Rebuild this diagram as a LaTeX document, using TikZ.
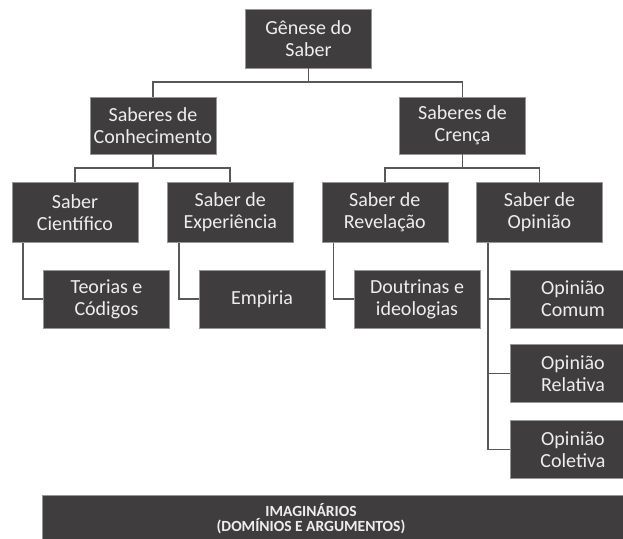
\documentclass[tikz,border=0pt]{standalone}
\usepackage{fontspec}
\setmainfont{Carlito}
\usetikzlibrary{positioning}
\definecolor{boxgray}{RGB}{64,61,62}
\definecolor{edgegray}{RGB}{150,150,150}
\definecolor{linegray}{RGB}{88,88,88}
\definecolor{textwhite}{RGB}{238,238,238}

\begin{document}
\begin{tikzpicture}[x=1pt, y=-1pt,
		box/.style={rectangle, draw=edgegray, line width=0.6pt, fill=boxgray, text=textwhite, align=center, minimum width=126pt, minimum height=58pt, inner sep=2pt, font=\fontsize{20}{22}\selectfont},
		bar/.style={rectangle, draw=edgegray, line width=0.6pt, fill=boxgray, minimum width=600pt, minimum height=60pt, inner sep=0pt},
		link/.style={draw=linegray, line width=1.8pt}]
	\useasboundingbox (0,0) rectangle (623,538);
	\clip (0,0) rectangle (623,538);
	\node[box, minimum height=59pt] (genese) at (308.5,38.5) {Gênese do\\Saber};
	\node[box, minimum height=57pt] (conhec) at (153,125.5) {Saberes de\\Conhecimento};
	\node[box, minimum height=57pt] (crenca) at (462.5,125.5) {Saberes de\\Crença};
	\node[box, minimum height=60pt] (cientifico) at (75,212.5) {Saber\\Científico};
	\node[box, minimum height=60pt] (experiencia) at (230.3,212.5) {Saber de\\Experiência};
	\node[box, minimum height=60pt] (revelacao) at (384.8,212.5) {Saber de\\Revelação};
	\node[box, minimum height=60pt] (opiniao) at (539.5,212.5) {Saber de\\Opinião};
	\node[box] (teorias) at (106.5,299) {Teorias e\\Códigos};
	\node[box] (empiria) at (262,299) {Empiria};
	\node[box] (doutrinas) at (417,299) {Doutrinas e\\ideologias};
	\node[box] (comum) at (573,299) {Opinião\\Comum};
	\node[box] (relativa) at (573,373.5) {Opinião\\Relativa};
	\node[box] (coletiva) at (573,449.5) {Opinião\\Coletiva};
	\node[bar, anchor=north west] (imag) at (42,495) {};
	\node[text=textwhite, align=center, inner sep=0pt, font=\fontsize{15.5}{15}\selectfont\bfseries] (imagtxt) at (311,519) {IMAGINÁRIOS\\(DOMÍNIOS E ARGUMENTOS)};
	\draw[link] (genese.south) -- ++(0,14) -| (conhec.north);
	\draw[link] (genese.south) -- ++(0,14) -| (crenca.north);
	\draw[link] (conhec.south) -- ++(0,14) -| (cientifico.north);
	\draw[link] (conhec.south) -- ++(0,14) -| (experiencia.north);
	\draw[link] (crenca.south) -- ++(0,14) -| (revelacao.north);
	\draw[link] (crenca.south) -- ++(0,14) -| (opiniao.north);
	\draw[link] ([xshift=11pt]cientifico.south west) |- (teorias.west);
	\draw[link] ([xshift=12pt]experiencia.south west) |- (empiria.west);
	\draw[link] ([xshift=12pt]revelacao.south west) |- (doutrinas.west);
	\draw[link] ([xshift=12pt]opiniao.south west) |- (coletiva.west);
	\draw[link] ([xshift=12pt]opiniao.south west |- comum.west) -- (comum.west);
	\draw[link] ([xshift=12pt]opiniao.south west |- relativa.west) -- (relativa.west);
\end{tikzpicture}
\end{document}
